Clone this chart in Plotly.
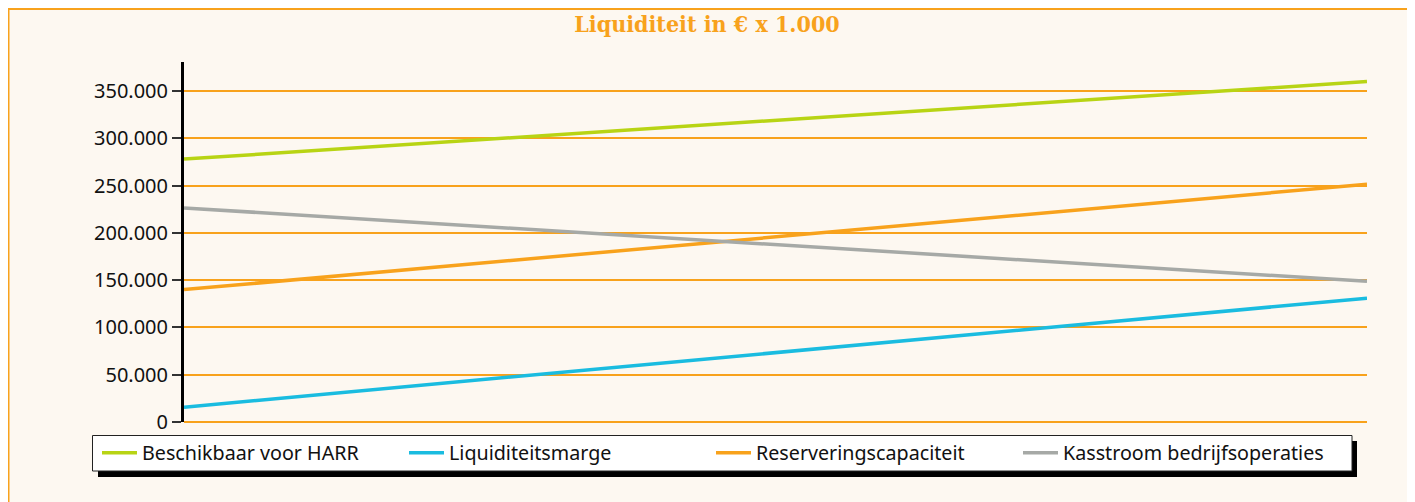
import plotly.graph_objects as go

# ---- data ----
periods = [0, 1]
series_names = ["Beschikbaar voor HARR", "Liquiditeitsmarge", "Reserveringscapaciteit", "Kasstroom bedrijfsoperaties"]
beschikbaar = [278000, 360000]
liquiditeitsmarge = [15700, 131000]
reservering = [140000, 251500]
kasstroom = [226400, 148800]
y_ticks = [0, 50000, 100000, 150000, 200000, 250000, 300000, 350000]
title_text = "Liquiditeit in € x 1.000"

colors = ["#B8D414", "#1ABCE0", "#F8A21C", "#A6A9A6"]
ORANGE = "#F8A21C"
CREAM = "#FDF8F1"

# page is rendered with an 8px body margin; work in page pixels and convert
OFF = 8
W, H = 1415, 502
PL, PR, PT, PB = 184, 1367, 62, 422   # plot area in page pixels
L = PL - OFF
T = PT - OFF
R = W - (PR - OFF)
B = H - (PB - OFF)
PW, PH = PR - PL, PB - PT

def px(x):
    return (x - PL) / PW

def py(y):
    return (PB - y) / PH

fig = go.Figure()
for name, vals, col in zip(series_names, [beschikbaar, liquiditeitsmarge, reservering, kasstroom], colors):
    fig.add_trace(go.Scatter(x=periods, y=vals, name=name, mode="lines",
                             line=dict(color=col, width=3.5)))

shapes = [
    # outer frame
    dict(type="rect", xref="paper", yref="paper", x0=px(8.5), x1=px(1410.5), y0=py(540), y1=py(9),
         fillcolor=CREAM, line=dict(color=ORANGE, width=2), layer="below"),
    # legend shadow
    dict(type="rect", xref="paper", yref="paper", x0=px(98), x1=px(1357), y0=py(477), y1=py(441),
         fillcolor="#000000", line=dict(width=0), layer="above"),
    # legend box
    dict(type="rect", xref="paper", yref="paper", x0=px(92.5), x1=px(1352), y0=py(471), y1=py(435.5),
         fillcolor="#FFFFFF", line=dict(color="#222222", width=1), layer="above"),
]

fig.update_layout(
    width=W, height=H,
    margin=dict(l=L, r=R, t=T, b=B, autoexpand=False),
    paper_bgcolor="#FFFFFF",
    plot_bgcolor=CREAM,
    separators=",.",
    title=dict(text=title_text, x=(707 - OFF) / W, xref="container", xanchor="center",
               y=1 - (23.5 - OFF) / H, yref="container", yanchor="middle",
               font=dict(family="DejaVu Serif Condensed", size=23, color=ORANGE, weight="bold")),
    xaxis=dict(range=[0, 1], showgrid=False, zeroline=False, showline=False,
               showticklabels=False, ticks="", fixedrange=True),
    yaxis=dict(range=[0, 380700], tickvals=y_ticks, tickformat=",d",
               showgrid=True, gridcolor=ORANGE, gridwidth=2,
               zeroline=True, zerolinecolor=ORANGE, zerolinewidth=2,
               showline=True, linecolor="#000000", linewidth=3,
               ticks="outside", ticklen=9, tickwidth=1.5, tickcolor="#333333",
               tickfont=dict(family="Noto Sans", size=20, color="#111111")),
    showlegend=True,
    legend=dict(orientation="h", x=px(97), xanchor="left", y=py(453), yanchor="middle",
                xref="paper", yref="paper",
                bgcolor="rgba(0,0,0,0)", borderwidth=0,
                itemwidth=35, entrywidth=257, entrywidthmode="pixels",
                font=dict(family="Noto Sans", size=19.7, color="#111111"),
                traceorder="normal"),
    shapes=shapes,
)

fig.write_html("out.html")
